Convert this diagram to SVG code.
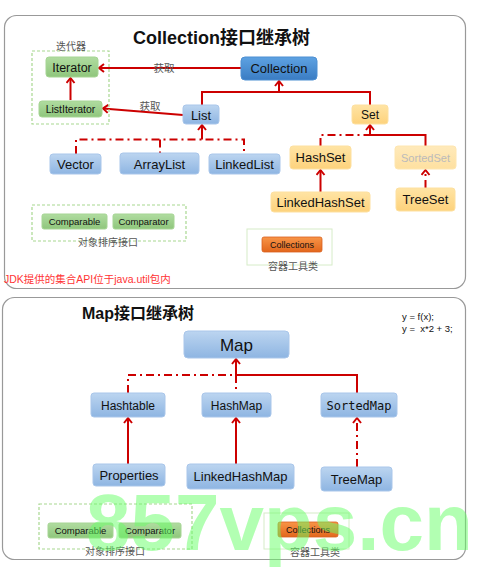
<svg xmlns="http://www.w3.org/2000/svg" width="500" height="570" viewBox="0 0 500 570">
<defs>
<linearGradient id="gBlue" x1="0" y1="0" x2="0" y2="1"><stop offset="0" stop-color="#bcd5f0"/><stop offset="1" stop-color="#8eb5e2"/></linearGradient>
<linearGradient id="gDark" x1="0" y1="0" x2="0" y2="1"><stop offset="0" stop-color="#5ea2e2"/><stop offset="1" stop-color="#3a7cc3"/></linearGradient>
<linearGradient id="gOrange" x1="0" y1="0" x2="0" y2="1"><stop offset="0" stop-color="#ffe4a4"/><stop offset="1" stop-color="#fdd27c"/></linearGradient>
<linearGradient id="gOrangeL" x1="0" y1="0" x2="0" y2="1"><stop offset="0" stop-color="#ffeabb"/><stop offset="1" stop-color="#fee0a0"/></linearGradient>
<linearGradient id="gGreen" x1="0" y1="0" x2="0" y2="1"><stop offset="0" stop-color="#b0dca0"/><stop offset="1" stop-color="#8fc67c"/></linearGradient>
<linearGradient id="gTool" x1="0" y1="0" x2="0" y2="1"><stop offset="0" stop-color="#f89548"/><stop offset="1" stop-color="#e2661c"/></linearGradient>
<marker id="ar" viewBox="0 0 10 10" refX="8" refY="5" markerWidth="10" markerHeight="10" markerUnits="userSpaceOnUse" orient="auto">
<path d="M3,1 L8,5 L3,9" fill="none" stroke="#cc0000" stroke-width="2"/>
</marker>
</defs>
<style>
text{font-family:"Liberation Sans",Arial,"Noto Sans CJK SC",sans-serif;fill:#111}
.cjk{font-family:"Noto Sans CJK SC","Liberation Sans",sans-serif;fill:#555;font-size:10px}
.panel{fill:#fff;stroke:#999;stroke-width:1.2}
.blue{fill:url(#gBlue);stroke:#a9c6ea;stroke-width:1}
.dark{fill:url(#gDark);stroke:#4d8fd2;stroke-width:1}
.orange{fill:url(#gOrange);stroke:#fde0a0;stroke-width:1}
.green{fill:url(#gGreen);stroke:#a6d594;stroke-width:1}
.tool{fill:url(#gTool);stroke:#d9611e;stroke-width:0.8}
.dgrp{fill:none;stroke:#a8d890;stroke-width:1.2;stroke-dasharray:3 2}
.sgrp{fill:none;stroke:#d6ecc8;stroke-width:1}
.ln{fill:none;stroke:#cc0000;stroke-width:2}
.dd{fill:none;stroke:#cc0000;stroke-width:2;stroke-dasharray:8 4 2 4}
.lbl{text-anchor:middle}
</style>
<rect x="0" y="0" width="500" height="570" fill="#fff"/>
<rect class="panel" x="4.5" y="15.5" width="461" height="273" rx="12"/>
<rect class="panel" x="2.5" y="297.5" width="463" height="262" rx="12"/>
<text x="133" y="44" style="font-size:18px;font-weight:bold">Collection<tspan style="font-family:'Noto Sans CJK SC',sans-serif">接口继承树</tspan></text>
<text x="82" y="319" style="font-size:16px;font-weight:bold">Map<tspan style="font-family:'Noto Sans CJK SC',sans-serif">接口继承树</tspan></text>
<g id="connectors">
<path class="ln" d="M241,68 L99,68" marker-end="url(#ar)"/>
<path class="ln" d="M183,115 L103,108.5" marker-end="url(#ar)"/>
<path class="ln" d="M70.5,100 L70.5,78" marker-end="url(#ar)"/>
<path class="ln" d="M202,105 L202,92 L370,92 L370,105"/>
<path class="ln" d="M279,92 L279,81" marker-end="url(#ar)"/>
<path class="dd" d="M76,154 L76,139.5 L244,139.5 L244,154 M160,139.5 L160,154"/>
<path class="ln" d="M202,139.5 L202,125" marker-end="url(#ar)"/>
<path class="dd" d="M320.5,146 L320.5,135 L370,135"/>
<path class="ln" d="M370,135 L425.5,135 L425.5,146"/>
<path class="ln" d="M370,135 L370,125" marker-end="url(#ar)"/>
<path class="ln" d="M320.5,192 L320.5,170" marker-end="url(#ar)"/>
<path class="dd" d="M425.5,188 L425.5,170" marker-end="url(#ar)"/>
<path class="dd" d="M128,393 L128,375 L236,375 L236,393"/>
<path class="ln" d="M236,375 L357,375 L357,393"/>
<path class="ln" d="M236,375 L236,359" marker-end="url(#ar)"/>
<path class="ln" d="M128,464 L128,418" marker-end="url(#ar)"/>
<path class="ln" d="M236,464 L236,418" marker-end="url(#ar)"/>
<path class="dd" d="M357,467 L357,418" marker-end="url(#ar)"/>
</g>
<text class="cjk" x="164" y="72" text-anchor="middle" style="font-size:10.5px">获取</text>
<text class="cjk" x="150" y="110" text-anchor="middle" style="font-size:10.5px">获取</text>
<g id="iterGroup">
<rect class="dgrp" x="32" y="51" width="77" height="73"/>
<text class="cjk" x="71" y="50" text-anchor="middle">迭代器</text>
</g>
<g id="Iterator"><rect class="green" x="46" y="57" width="52" height="20" rx="3"/><text class="lbl" x="72" y="72" style="font-size:12.5px">Iterator</text></g>
<g id="ListIterator"><rect class="green" x="39" y="101" width="63" height="16" rx="3"/><text class="lbl" x="70.5" y="113" style="font-size:10.5px">ListIterator</text></g>
<g id="Collection"><rect class="dark" x="241" y="57" width="76" height="23" rx="4"/><text class="lbl" x="279" y="73" style="font-size:13px">Collection</text></g>
<g id="List"><rect class="blue" x="183" y="105" width="36" height="19" rx="3"/><text class="lbl" x="201" y="119.5" style="font-size:13px">List</text></g>
<g id="Set"><rect class="orange" x="352" y="105" width="36" height="19" rx="3"/><text class="lbl" x="370" y="119" style="font-size:12px">Set</text></g>
<g id="Vector"><rect class="blue" x="50" y="154" width="51" height="20" rx="3"/><text class="lbl" x="75.5" y="169" style="font-size:13px">Vector</text></g>
<g id="ArrayList"><rect class="blue" x="120" y="153" width="79" height="21" rx="3"/><text class="lbl" x="159.5" y="168.5" style="font-size:13px">ArrayList</text></g>
<g id="LinkedList"><rect class="blue" x="209" y="154" width="71" height="20" rx="3"/><text class="lbl" x="244.5" y="169" style="font-size:13px">LinkedList</text></g>
<g id="HashSet"><rect class="orange" x="290" y="146" width="61" height="23" rx="3"/><text class="lbl" x="320.5" y="162" style="font-size:13px">HashSet</text></g>
<g id="SortedSet"><rect fill="url(#gOrangeL)" stroke="#fee6b0" x="395" y="146" width="61" height="23" rx="3"/><text class="lbl" x="425.5" y="161.5" style="font-size:11px;fill:#bbb">SortedSet</text></g>
<g id="LinkedHashSet"><rect class="orange" x="271" y="192" width="99" height="20" rx="3"/><text class="lbl" x="320.5" y="207" style="font-size:13px">LinkedHashSet</text></g>
<g id="TreeSet"><rect class="orange" x="396" y="188" width="59" height="23" rx="3"/><text class="lbl" x="425.5" y="204" style="font-size:13px">TreeSet</text></g>
<g id="sortGroup1">
<rect class="dgrp" x="32" y="205" width="154" height="36"/>
<text class="cjk" x="108" y="246" text-anchor="middle">对象排序接口</text>
</g>
<g id="Comparable1"><rect class="green" x="42" y="214" width="65" height="15" rx="2"/><text class="lbl" x="74.5" y="225" style="font-size:9.5px">Comparable</text></g>
<g id="Comparator1"><rect class="green" x="113" y="214" width="61" height="15" rx="2"/><text class="lbl" x="143.5" y="225" style="font-size:9.5px">Comparator</text></g>
<g id="toolGroup1">
<rect class="sgrp" x="247" y="229" width="85" height="36"/>
<rect class="tool" x="262" y="237" width="60" height="15" rx="2"/>
<text class="lbl" x="292" y="248" style="font-size:9px">Collections</text>
<text class="cjk" x="293" y="270" text-anchor="middle">容器工具类</text>
</g>
<text x="4" y="283" style="font-size:10.5px;fill:#ff3333">JDK提供的集合API位于java.util包内</text>
<g id="Map"><rect class="blue" x="184" y="331" width="105" height="27" rx="4"/><text class="lbl" x="236.5" y="351" style="font-size:17px">Map</text></g>
<g id="Hashtable"><rect class="blue" x="91" y="393" width="74" height="24" rx="3"/><text class="lbl" x="128" y="409.5" style="font-size:12px">Hashtable</text></g>
<g id="HashMap"><rect class="blue" x="202" y="393" width="69" height="24" rx="3"/><text class="lbl" x="236.5" y="409.5" style="font-size:12px">HashMap</text></g>
<g id="SortedMap"><rect class="blue" x="321" y="393" width="76" height="24" rx="3"/><text class="lbl" x="359" y="410" style="font-size:12px;font-family:'DejaVu Sans Mono','Liberation Mono',monospace">SortedMap</text></g>
<g id="Properties"><rect class="blue" x="93" y="464" width="72" height="22" rx="3"/><text class="lbl" x="129" y="480" style="font-size:13px">Properties</text></g>
<g id="LinkedHashMap"><rect class="blue" x="187" y="464" width="107" height="25" rx="3"/><text class="lbl" x="240.5" y="481" style="font-size:13px">LinkedHashMap</text></g>
<g id="TreeMap"><rect class="blue" x="321" y="467" width="71" height="24" rx="3"/><text class="lbl" x="356.5" y="484" style="font-size:13px">TreeMap</text></g>
<text x="402" y="320" style="font-size:9.5px">y = f(x);</text>
<text x="402" y="332" style="font-size:9.5px;white-space:pre" xml:space="preserve">y =  x*2 + 3;</text>
<g id="sortGroup2">
<rect class="dgrp" x="39" y="504" width="153" height="45"/>
<text class="cjk" x="115" y="555" text-anchor="middle">对象排序接口</text>
</g>
<g id="Comparable2"><rect class="green" x="48" y="523" width="65" height="15" rx="2"/><text class="lbl" x="80.5" y="534" style="font-size:9.5px">Comparable</text></g>
<g id="Comparator2"><rect class="green" x="119" y="523" width="62" height="15" rx="2"/><text class="lbl" x="150" y="534" style="font-size:9.5px">Comparator</text></g>
<g id="toolGroup2">
<rect class="sgrp" x="264" y="513" width="85" height="36"/>
<rect class="tool" x="278" y="522" width="60" height="15" rx="2"/>
<text class="lbl" x="308" y="533" style="font-size:9px">Collections</text>
<text class="cjk" x="315" y="556" text-anchor="middle">容器工具类</text>
</g>
<text x="86" y="550" style="font-size:80px;font-weight:bold;fill:#66ff66;fill-opacity:0.5">857vps.cn</text>
</svg>
